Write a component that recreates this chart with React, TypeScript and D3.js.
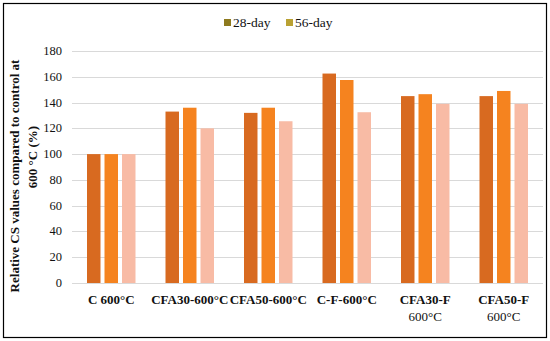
import React, { useEffect, useRef } from 'react'
import * as d3 from 'd3'

const categories = [
  ['C 600°C'],
  ['CFA30-600°C'],
  ['CFA50-600°C'],
  ['C-F-600°C'],
  ['CFA30-F', '600°C'],
  ['CFA50-F', '600°C'],
]
const seriesA = [100, 133, 132, 162.5, 145, 145]
const seriesB = [100, 136, 136, 157.5, 146.5, 149]
const seriesC = [100, 120, 125.5, 132.5, 139, 139]
const barColors = ['#d86a20', '#f5831f', '#f8bba5']
const legendItems = ['28-day', '56-day']
const legendColors = ['#8e7a1e', '#b9a133']
const yTicks = [0, 20, 40, 60, 80, 100, 120, 140, 160, 180]

const W = 550
const H = 341

export default function App() {
  const ref = useRef<SVGSVGElement>(null)

  useEffect(() => {
    const svg = d3.select(ref.current)
    svg.selectAll('*').remove()

    const serif = 'Liberation Serif'
    const x = d3.scaleBand().domain(categories.map((c, i) => String(i))).range([72, 543])
    const inner = d3.scaleBand().domain(['0', '1', '2']).range([0, x.bandwidth()])
      .paddingInner(0.229).paddingOuter(0.857)
    const y = d3.scaleLinear().domain([0, 180]).range([283, 51])

    // frame
    svg.append('rect').attr('x', 3.5).attr('y', 3.5).attr('width', 543).attr('height', 334)
      .attr('fill', 'white').attr('stroke', '#000').attr('stroke-width', 1.2)

    // grid
    svg.append('g').selectAll('line').data(yTicks).enter().append('line')
      .attr('x1', 72).attr('x2', 543)
      .attr('y1', d => Math.round(y(d)) + 0.5).attr('y2', d => Math.round(y(d)) + 0.5)
      .attr('stroke', '#d9d9d9').attr('stroke-width', 1)

    svg.append('g').selectAll('text').data(yTicks).enter().append('text')
      .attr('x', 62).attr('y', d => y(d) + 4)
      .attr('text-anchor', 'end').style('font-family', serif).attr('font-size', 12.5)
      .attr('fill', '#111').text(d => d)

    const all = [seriesA, seriesB, seriesC]
    all.forEach((vals, s) => {
      svg.append('g').selectAll('rect').data(vals).enter().append('rect')
        .attr('x', (d, i) => (x(String(i)) as number) + (inner(String(s)) as number))
        .attr('width', inner.bandwidth())
        .attr('y', d => y(d))
        .attr('height', d => y(0) - y(d))
        .attr('fill', barColors[s])
    })

    // category labels
    const lab = svg.append('g')
    categories.forEach((lines, i) => {
      const cx = (x(String(i)) as number) + x.bandwidth() / 2
      lines.forEach((t, j) => {
        lab.append('text').attr('x', cx).attr('y', 304 + j * 17)
          .attr('text-anchor', 'middle').style('font-family', serif)
          .attr('font-size', 13).attr('font-weight', j === 0 ? 'bold' : 'normal')
          .attr('fill', '#111').text(t)
      })
    })

    // y title
    svg.append('text').attr('transform', 'translate(19,176) rotate(-90)')
      .attr('text-anchor', 'middle').style('font-family', serif).attr('font-size', 13)
      .attr('font-weight', 'bold').attr('fill', '#111')
      .text('Relative CS values compared to control at')
    svg.append('text').attr('transform', 'translate(37,157) rotate(-90)')
      .attr('text-anchor', 'middle').style('font-family', serif).attr('font-size', 13)
      .attr('font-weight', 'bold').attr('fill', '#111')
      .text('600 °C  (%)')

    // legend
    const lx = [224, 286]
    legendItems.forEach((t, i) => {
      svg.append('rect').attr('x', lx[i]).attr('y', 19).attr('width', 7).attr('height', 7)
        .attr('fill', legendColors[i])
      svg.append('text').attr('x', lx[i] + 9).attr('y', 27)
        .style('font-family', serif).attr('font-size', 13.5).attr('fill', '#111').text(t)
    })
  }, [])

  return (
    <svg ref={ref} width={W} height={H}
      style={{ position: 'absolute', left: 0, top: 0, background: 'white' }} />
  )
}
